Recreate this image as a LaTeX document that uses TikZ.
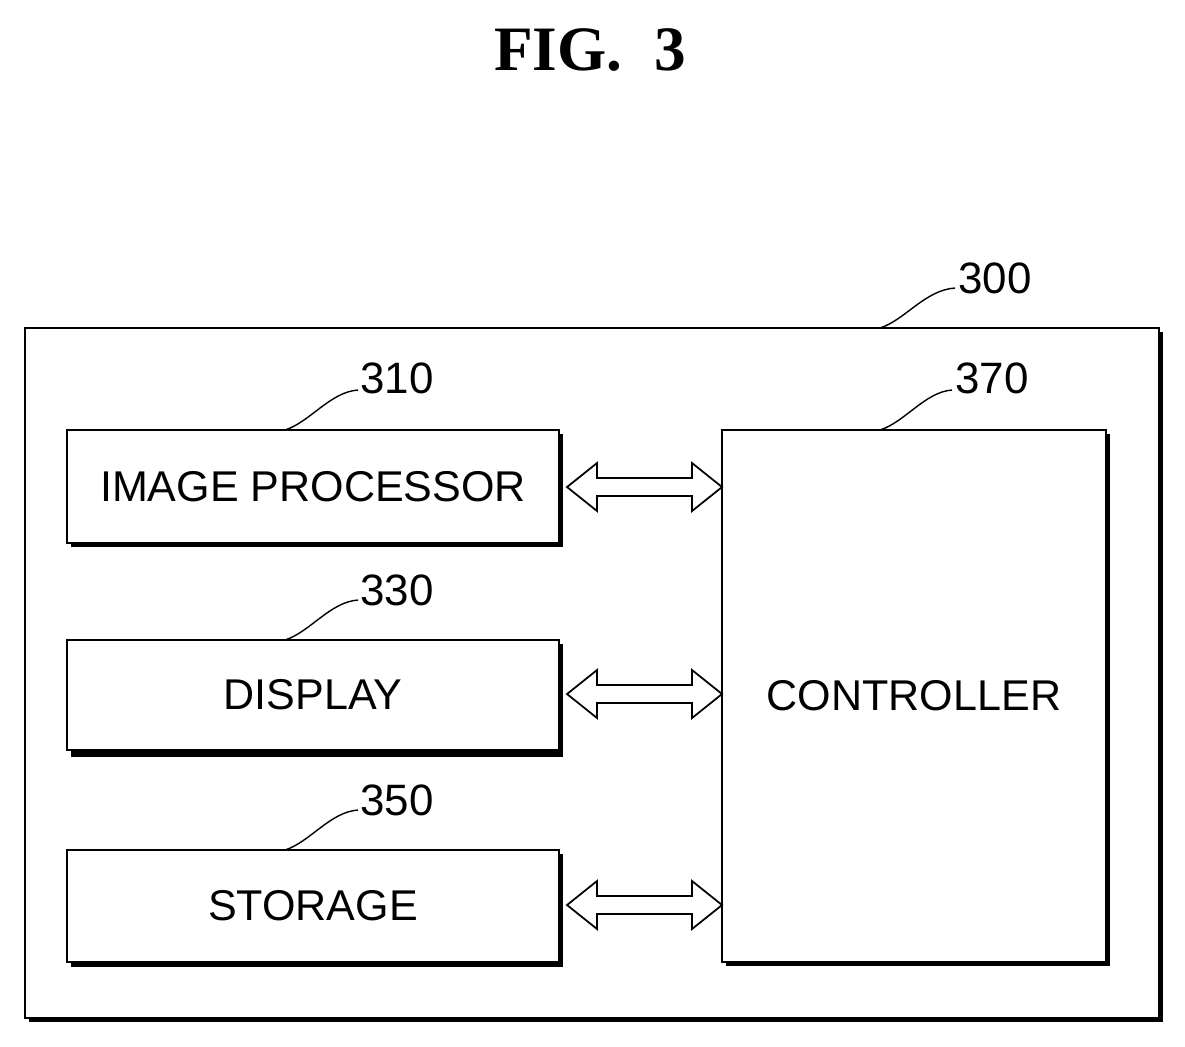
\documentclass[tikz,border=0pt]{standalone}
\usepackage{fontspec}
\setmainfont{Liberation Sans}
\newfontfamily\figfont{Liberation Serif}
\begin{document}
\begin{tikzpicture}[x=0.02cm,y=-0.02cm,
  blk/.style={draw,line width=1.2pt,fill=white,inner sep=0pt},
  shd/.style={fill=black},
  lbl/.style={font=\fontsize{24.5}{28}\selectfont},
  num/.style={font=\fontsize{25}{28}\selectfont},
  lead/.style={line width=0.8pt},
  darr/.style={draw,line width=1pt,fill=white,line join=miter}]
\useasboundingbox (0,0) rectangle (1185,1046);
\node[font=\figfont\bfseries\fontsize{36}{40}\selectfont] (title) at (590,50) {FIG.\ \ 3};
% outer box
\fill[shd] (29,332) rectangle (1163,1022);
\draw[blk] (25,328) rectangle (1159,1018);
% component boxes
\foreach \y in {430,640,850}{
  \fill[shd] (71,\y+4) rectangle (563,\y+117);
}
\fill[shd] (726,434) rectangle (1110,966);
\draw[blk] (67,430) rectangle (559,543) node[midway,lbl] (ip) {IMAGE PROCESSOR};
\draw[blk] (67,640) rectangle (559,750) node[midway,lbl] (disp) {DISPLAY};
\draw[blk] (67,850) rectangle (559,962) node[midway,lbl] (stor) {STORAGE};
\draw[blk] (722,430) rectangle (1106,962) node[midway,lbl] (ctl) {CONTROLLER};
% hollow double arrows
\foreach \y in {487,694,905}{
  \draw[darr] (567,\y) -- (597,\y-24) -- (597,\y-9) -- (692,\y-9) -- (692,\y-24)
     -- (722,\y) -- (692,\y+24) -- (692,\y+9) -- (597,\y+9) -- (597,\y+24) -- cycle;
}
% labels
\node[num] (n300) at (995,278) {300};
\node[num] (n310) at (397,378) {310};
\node[num] (n370) at (992,378) {370};
\node[num] (n330) at (397,590) {330};
\node[num] (n350) at (397,800) {350};
\draw[lead] (880,328) .. controls (905,320) and (925,290) .. (955,288);
\draw[lead] (285,430) .. controls (310,422) and (330,392) .. (358,390);
\draw[lead] (880,430) .. controls (905,422) and (925,392) .. (952,390);
\draw[lead] (285,640) .. controls (310,632) and (330,602) .. (358,600);
\draw[lead] (285,850) .. controls (310,842) and (330,812) .. (358,810);
\end{tikzpicture}
\end{document}
